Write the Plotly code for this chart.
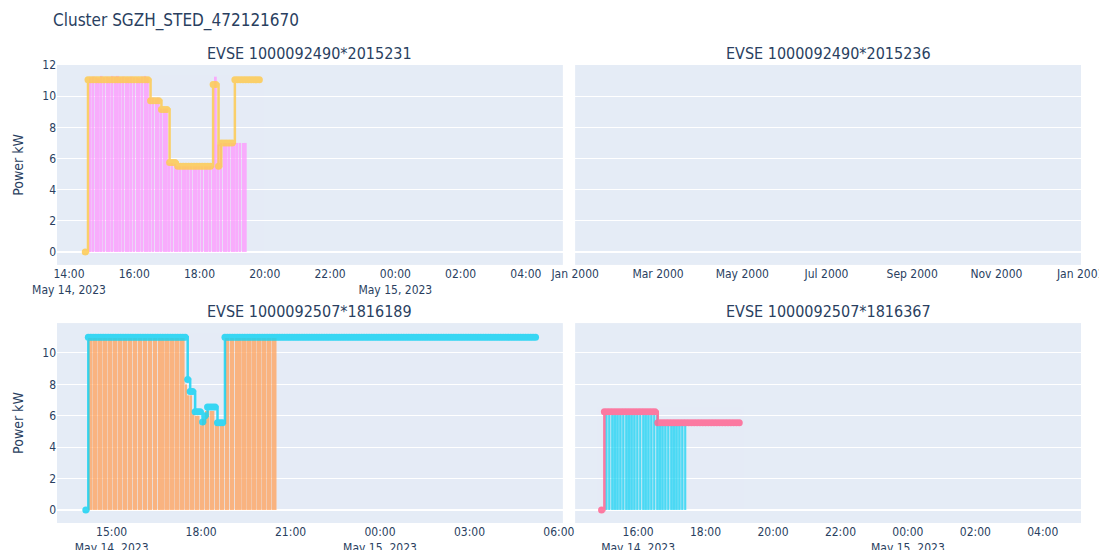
import pandas as pd
import plotly.graph_objects as go
from plotly.subplots import make_subplots

# ---------------- data ----------------
titles = ["EVSE 1000092490*2015231", "EVSE 1000092490*2015236",
          "EVSE 1000092507*1816189", "EVSE 1000092507*1816367"]

# EVSE ...2015231 : measured power (bars) every 5 min from 14:40
tl_bar_start = "2023-05-14 14:40"
tl_bar_vals = [11.2, 11.25, 11.2, 11.15, 11.3, 11.2, 11.25, 11.2, 11.3, 11.25, 11.3,
               11.2, 11.25, 11.2, 11.2, 11.25, 11.2, 11.2, 11.15, 11.25, 11.3, 11.2,
               9.9, 9.9, 9.85, 9.9,
               9.2, 9.2, 9.2,
               5.7, 5.7, 5.65,
               5.5, 5.5, 5.5, 5.5, 5.5, 5.5, 5.5, 5.5, 5.5, 5.5, 5.5, 5.5, 5.5,
               5.5, 11.25, 6.9,
               7.0, 7.0, 7.0, 7.0, 7.0, 7.0, 7.0, 7.0, 7.0, 7.0]
# EVSE ...2015231 : power limit (step line) every 5 min from 14:30
tl_line_start = "2023-05-14 14:30"
tl_line_vals = [0,
                11.05, 11.05, 11.05, 11.05, 11.05, 11.05, 11.05, 11.05, 11.05, 11.05, 11.05, 11.05,
                11.05, 11.05, 11.05, 11.05, 11.05, 11.05, 11.05, 11.05, 11.05, 11.05, 11.05,
                9.7, 9.7, 9.7, 9.7,
                9.15, 9.15, 9.15,
                5.75, 5.75, 5.75,
                5.5, 5.5, 5.5, 5.5, 5.5, 5.5, 5.5, 5.5, 5.5, 5.5, 5.5, 5.5, 5.5,
                10.75, 10.75,
                5.5,
                7.0, 7.0, 7.0, 7.0, 7.0,
                11.05, 11.05, 11.05, 11.05, 11.05, 11.05, 11.05, 11.05, 11.05, 11.05]

# EVSE ...1816189 : measured power (bars) every 5 min from 14:15
bl_bar_start = "2023-05-14 14:15"
bl_bar_vals = [10.95, 10.95, 10.95, 10.95, 10.95, 10.95, 10.95, 10.95, 10.95, 10.95,
               10.95, 10.95, 10.95, 10.95, 10.95, 10.95, 10.95, 10.95, 10.95, 10.95,
               10.95, 10.95, 10.95, 10.95, 10.95, 10.95, 10.95, 10.95, 10.95, 10.95,
               10.95, 10.95, 10.95, 10.95, 10.95, 10.95, 10.95, 10.95, 10.95,
               8.0, 7.3, 7.3, 6.1, 6.0, 6.0, 5.4, 5.8, 6.3, 6.3, 6.3, 6.3, 5.4, 5.35, 5.35, 5.35,
               10.95, 10.95, 10.95, 10.95, 10.95, 10.95, 10.95, 10.95, 10.95, 10.95,
               10.95, 10.95, 10.95, 10.95, 10.95, 10.95, 10.95, 10.95, 10.95, 10.95, 10.95]
# EVSE ...1816189 : power limit (step line) every 5 min from 14:08
bl_line_start = "2023-05-14 14:08"
bl_line_vals = ([0]
                + [11.0, 11.0, 11.0, 11.0, 11.0, 11.0, 11.0, 11.0, 11.0, 11.0,
                   11.0, 11.0, 11.0, 11.0, 11.0, 11.0, 11.0, 11.0, 11.0, 11.0,
                   11.0, 11.0, 11.0, 11.0, 11.0, 11.0, 11.0, 11.0, 11.0, 11.0,
                   11.0, 11.0, 11.0, 11.0, 11.0, 11.0, 11.0, 11.0, 11.0, 11.0]
                + [8.3, 7.55, 7.55, 6.25, 6.25, 6.25, 5.6, 6.0,
                   6.55, 6.55, 6.55, 6.55, 5.55, 5.55, 5.55]
                + [11.0, 11.0, 11.0, 11.0, 11.0, 11.0, 11.0, 11.0, 11.0, 11.0, 11.0, 11.0,
                   11.0, 11.0, 11.0, 11.0, 11.0, 11.0, 11.0, 11.0, 11.0, 11.0, 11.0, 11.0,
                   11.0, 11.0, 11.0, 11.0, 11.0, 11.0, 11.0, 11.0, 11.0, 11.0, 11.0, 11.0,
                   11.0, 11.0, 11.0, 11.0, 11.0, 11.0, 11.0, 11.0, 11.0, 11.0, 11.0, 11.0,
                   11.0, 11.0, 11.0, 11.0, 11.0, 11.0, 11.0, 11.0, 11.0, 11.0, 11.0, 11.0,
                   11.0, 11.0, 11.0, 11.0, 11.0, 11.0, 11.0, 11.0, 11.0, 11.0, 11.0, 11.0,
                   11.0, 11.0, 11.0, 11.0, 11.0, 11.0, 11.0, 11.0, 11.0, 11.0, 11.0, 11.0,
                   11.0, 11.0, 11.0, 11.0, 11.0, 11.0, 11.0, 11.0, 11.0, 11.0, 11.0, 11.0,
                   11.0, 11.0, 11.0, 11.0, 11.0, 11.0, 11.0, 11.0, 11.0, 11.0, 11.0, 11.0,
                   11.0, 11.0, 11.0, 11.0, 11.0, 11.0, 11.0, 11.0, 11.0, 11.0, 11.0, 11.0,
                   11.0, 11.0, 11.0, 11.0, 11.0, 11.0])

# EVSE ...1816367 : measured power (bars) every 5 min from 15:04
br_bar_start = "2023-05-14 15:04"
br_bar_vals = [6.05, 6.05, 6.05, 6.05, 6.05, 6.05, 6.05, 6.05, 6.05, 6.05,
               6.05, 6.05, 6.05, 6.05, 6.05, 6.05, 6.05, 6.05, 6.05,
               5.35, 5.35, 5.35, 5.35, 5.35, 5.35, 5.35, 5.35, 5.35, 5.35]
# EVSE ...1816367 : power limit (step line) every 5 min from 14:55
br_line_start = "2023-05-14 14:55"
br_line_vals = [0,
                6.25, 6.25, 6.25, 6.25, 6.25, 6.25, 6.25, 6.25, 6.25, 6.25,
                6.25, 6.25, 6.25, 6.25, 6.25, 6.25, 6.25, 6.25, 6.25,
                5.55, 5.55, 5.55, 5.55, 5.55, 5.55, 5.55, 5.55, 5.55, 5.55,
                5.55, 5.55, 5.55, 5.55, 5.55, 5.55, 5.55, 5.55, 5.55, 5.55,
                5.55, 5.55, 5.55, 5.55, 5.55, 5.55, 5.55, 5.55, 5.55, 5.55]

x_ranges = {
    (1, 1): ["2023-05-14 13:38", "2023-05-15 05:08"],
    (1, 2): ["2000-01-01", "2001-01-01 06:00"],
    (2, 1): ["2023-05-14 13:10", "2023-05-15 06:08"],
    (2, 2): ["2023-05-14 14:08", "2023-05-15 05:08"],
}
x_dticks = {(1, 1): 2, (2, 1): 3, (2, 2): 2}
y_ranges = {1: [-0.83, 12.0], 2: [-0.83, 11.9]}

FONT = "DejaVu Sans Condensed, Liberation Sans, Arial, sans-serif"


def times(start, n):
    return pd.date_range(start, periods=n, freq="5min")


# ---------------- figure ----------------
fig = make_subplots(rows=2, cols=2, subplot_titles=titles,
                    horizontal_spacing=0.012, vertical_spacing=0.127)


def add_panel(row, col, bar_start, bar_vals, bar_color, line_start, line_vals, line_color):
    fig.add_trace(go.Bar(x=times(bar_start, len(bar_vals)), y=bar_vals,
                         marker=dict(color=bar_color, line=dict(width=0)),
                         opacity=0.75, showlegend=False), row=row, col=col)
    fig.add_trace(go.Scatter(x=times(line_start, len(line_vals)), y=line_vals,
                             mode="lines+markers", line=dict(color=line_color, width=2.5, shape="hv"),
                             marker=dict(color=line_color, size=7), opacity=0.85,
                             showlegend=False), row=row, col=col)


add_panel(1, 1, tl_bar_start, tl_bar_vals, "#FF97FF", tl_line_start, tl_line_vals, "#FECB52")
# empty EVSE panel (no sessions)
fig.add_trace(go.Scatter(x=pd.to_datetime([]), y=[], mode="lines", showlegend=False), row=1, col=2)
add_panel(2, 1, bl_bar_start, bl_bar_vals, "#FFA15A", bl_line_start, bl_line_vals, "#19D3F3")
add_panel(2, 2, br_bar_start, br_bar_vals, "#19D3F3", br_line_start, br_line_vals, "#FF6692")

for (r, c), rng in x_ranges.items():
    kw = dict(type="date", range=rng, automargin=False, showgrid=False,
              ticklabeloverflow="allow", row=r, col=c)
    if (r, c) in x_dticks:
        kw["dtick"] = x_dticks[(r, c)] * 3600 * 1000
    fig.update_xaxes(**kw)

for r in (1, 2):
    for c in (1, 2):
        fig.update_yaxes(range=y_ranges[r], dtick=2, automargin=False,
                         showticklabels=(c == 1), row=r, col=c)
    fig.update_yaxes(title_text="Power kW", row=r, col=1)

fig.update_layout(
    width=1107, height=542,
    margin=dict(l=49, r=34, t=57, b=27),
    font=dict(family=FONT),
    title=dict(text="Cluster SGZH_STED_472121670", x=45 / 1107, xanchor="left",
               y=0.978, yanchor="middle", yref="container", font=dict(size=17)),
    showlegend=False,
    bargap=0.3,
)
fig.update_annotations(font=dict(size=16, family=FONT))

fig.write_html("out.html")
